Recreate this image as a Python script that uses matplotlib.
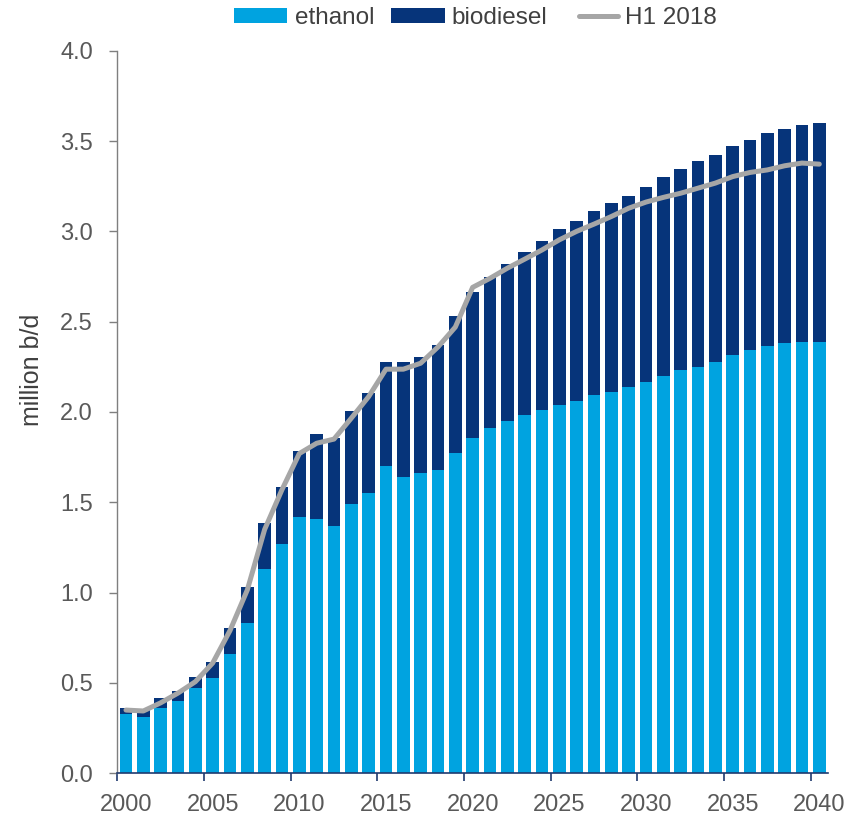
import numpy as np
import matplotlib
matplotlib.use("Agg")
import matplotlib.pyplot as plt
from matplotlib.legend_handler import HandlerLine2D
from matplotlib.lines import Line2D

plt.rcParams['font.family'] = ['Liberation Sans', 'DejaVu Sans']

years = list(range(2000, 2041))
ethanol = [0.33, 0.31, 0.36, 0.40, 0.47, 0.53, 0.66, 0.83, 1.13, 1.27,
           1.42, 1.41, 1.37, 1.49, 1.55, 1.70, 1.64, 1.66, 1.68, 1.775,
           1.855, 1.91, 1.95, 1.985, 2.01, 2.04, 2.06, 2.095, 2.113, 2.137,
           2.168, 2.20, 2.23, 2.25, 2.276, 2.316, 2.344, 2.366, 2.384, 2.39,
           2.39]
biodiesel = [0.033, 0.04, 0.055, 0.057, 0.065, 0.088, 0.146, 0.203, 0.258, 0.314,
             0.366, 0.469, 0.485, 0.518, 0.557, 0.574, 0.634, 0.647, 0.692, 0.757,
             0.81, 0.836, 0.868, 0.90, 0.934, 0.972, 1.00, 1.015, 1.043, 1.06,
             1.077, 1.103, 1.114, 1.137, 1.144, 1.154, 1.159, 1.178, 1.183, 1.196,
             1.212]
h1_2018 = [0.35, 0.345, 0.39, 0.444, 0.507, 0.61, 0.79, 1.015, 1.35, 1.57,
           1.77, 1.827, 1.85, 1.966, 2.085, 2.237, 2.237, 2.27, 2.36, 2.47,
           2.69, 2.74, 2.796, 2.846, 2.897, 2.953, 3.0, 3.04, 3.082, 3.128,
           3.162, 3.188, 3.211, 3.239, 3.267, 3.303, 3.326, 3.34, 3.363, 3.378,
           3.372]
y_ticks = [0.0, 0.5, 1.0, 1.5, 2.0, 2.5, 3.0, 3.5, 4.0]
x_label_years = [2000, 2005, 2010, 2015, 2020, 2025, 2030, 2035, 2040]

C_ETH = '#00A3E0'
C_BIO = '#06347A'
C_LINE = '#A6A6A6'
C_TXT = '#595959'

fig = plt.figure(figsize=(8.52, 8.19), dpi=100)
ax = fig.add_axes([0.1377, 0.0558, 0.8341, 0.8823])

x = np.array(years)
ax.bar(x, ethanol, width=0.72, color=C_ETH, zorder=2, label='ethanol')
ax.bar(x, biodiesel, width=0.72, bottom=ethanol, color=C_BIO, zorder=2, label='biodiesel')
ax.plot(x, h1_2018, color=C_LINE, lw=3.6, zorder=3, solid_capstyle='round',
        solid_joinstyle='round', label='H1 2018')

ax.set_xlim(1999.5, 2040.5)
ax.set_ylim(0, 4.0)
ax.set_yticks(y_ticks)
ax.set_yticklabels([f'{v:.1f}' for v in y_ticks])

# major ticks at category boundaries, labels at category centres
ax.set_xticks([y - 0.5 for y in x_label_years])
ax.set_xticklabels([])
ax.set_xticks(x_label_years, minor=True)
ax.set_xticklabels([str(y) for y in x_label_years], minor=True)

for s in ['top', 'right']:
    ax.spines[s].set_visible(False)
ax.spines['left'].set_color('#7F7F7F')
ax.spines['left'].set_linewidth(1.0)
ax.spines['bottom'].set_color('#1F3A6E')
ax.spines['bottom'].set_linewidth(1.2)
ax.spines['bottom'].set_zorder(4)

ax.tick_params(axis='y', direction='out', length=5.5, width=1.0, color='#7F7F7F',
               labelsize=17, labelcolor=C_TXT, pad=12)
ax.tick_params(axis='x', which='major', direction='out', length=6, width=1.2,
               color='#1F3A6E')
ax.tick_params(axis='x', which='minor', length=0, labelsize=17,
               labelcolor=C_TXT, pad=15)

ax.set_ylabel('million b/d', fontsize=18, color='#404040')
ax.yaxis.set_label_coords(-0.103, 0.558)


class ShortLine(HandlerLine2D):
    def get_xdata(self, legend, xdescent, ydescent, width, height, fontsize):
        x0 = -xdescent + width * 0.27
        x1 = -xdescent + width
        return np.array([x0, x1]), np.array([(x0 + x1) / 2])


handles, labels = ax.get_legend_handles_labels()
order = [1, 2, 0]
handles = [handles[i] for i in order]
labels = [labels[i] for i in order]
leg = fig.legend(handles, labels, loc='center', bbox_to_anchor=(0.558, 0.978),
                 ncol=3, frameon=False, fontsize=17.5, handlelength=2.2,
                 handleheight=0.6, handletextpad=0.3, columnspacing=0.7,
                 borderpad=0, labelcolor='#404040',
                 handler_map={Line2D: ShortLine()})

fig.savefig('out.png', dpi=100)
